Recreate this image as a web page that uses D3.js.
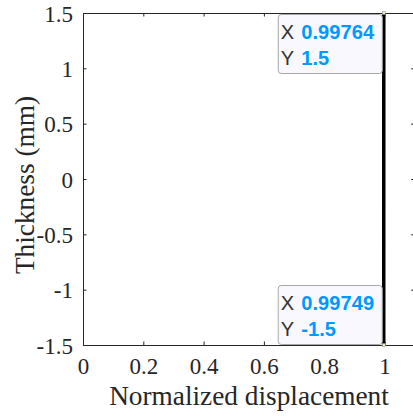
<!DOCTYPE html>
<html>
<head>
<meta charset="utf-8">
<style>
    body { margin: 0; background: #fff; }
    svg { display: block; }
    .tick text { font-family: "Liberation Serif", "Times New Roman", serif; font-size: 23px; fill: #262626; }
    .lbl { font-family: "Liberation Serif", "Times New Roman", serif; font-size: 27.3px; fill: #262626; }
    .tip { font-family: "Liberation Sans", Arial, Helvetica, sans-serif; font-size: 20px; letter-spacing: 0.1px; }
</style>
</head>
<body>
<div class="viz"></div>
<script src="https://cdnjs.cloudflare.com/ajax/libs/d3/7.8.5/d3.min.js"></script>
<script>
    // data
    var thickness = [-1.5, -1.0, -0.5, 0, 0.5, 1.0, 1.5];
    var displacement = [0.99749, 0.99752, 0.99754, 0.99756, 0.99759, 0.99761, 0.99764];
    var xTicks = [0, 0.2, 0.4, 0.6, 0.8, 1];
    var yTicks = [-1.5, -1, -0.5, 0, 0.5, 1, 1.5];
    var tips = [
        {x: 0.99764, y: 1.5, xs: "0.99764", ys: "1.5"},
        {x: 0.99749, y: -1.5, xs: "0.99749", ys: "-1.5"}
    ];

    var width = 413, height = 416;
    var margin = {left: 83, top: 13, bottom: 71};

    var svg = d3.select('.viz').append('svg')
        .attr('width', width)
        .attr('height', height);

    var x = d3.scaleLinear().domain([0, 1.1]).range([margin.left, 83 + 1.1 * 301.5]);
    var y = d3.scaleLinear().domain([-1.5, 1.5]).range([height - margin.bottom, margin.top]);

    var axisCol = '#262626';
    var fmt = function (d) { return String(d); };

    // box with inward ticks
    var xAxis = svg.append('g')
        .attr('transform', 'translate(0,' + y(-1.5) + ')')
        .call(d3.axisBottom(x).tickValues(xTicks).tickSizeInner(-3.5).tickSizeOuter(0)
            .tickFormat(fmt).tickPadding(12));
    var yAxis = svg.append('g')
        .attr('transform', 'translate(' + x(0) + ',0)')
        .call(d3.axisLeft(y).tickValues(yTicks).tickSizeInner(-3.5).tickSizeOuter(0)
            .tickFormat(fmt).tickPadding(10));
    var xTop = svg.append('g')
        .attr('transform', 'translate(0,' + y(1.5) + ')')
        .call(d3.axisTop(x).tickValues(xTicks).tickSizeInner(-3.5).tickSizeOuter(0).tickFormat(''));
    var yRight = svg.append('g')
        .attr('transform', 'translate(' + x(1.1) + ',0)')
        .call(d3.axisRight(y).tickValues(yTicks).tickSizeInner(-3.5).tickSizeOuter(0).tickFormat(''));

    [xAxis, yAxis, xTop, yRight].forEach(function (a) {
        a.select('.domain').attr('stroke', axisCol).attr('stroke-width', 1);
        a.selectAll('.tick line').attr('stroke', axisCol);
    });
    xAxis.selectAll('.tick text').attr('dy', '0.72em');
    yAxis.selectAll('.tick text').attr('dy', '0.35em');

    // the line
    var pts = thickness.map(function (t, i) { return [displacement[i], t]; });
    svg.append('path')
        .datum(pts)
        .attr('fill', 'none')
        .attr('stroke', '#000')
        .attr('stroke-width', 3.5)
        .attr('d', d3.line().x(function (d) { return x(d[0]); }).y(function (d) { return y(d[1]); }));

    // axis labels
    svg.append('text')
        .attr('class', 'lbl')
        .attr('text-anchor', 'middle')
        .attr('x', 249)
        .attr('y', 405)
        .text('Normalized displacement');
    svg.append('text')
        .attr('class', 'lbl')
        .attr('text-anchor', 'middle')
        .attr('transform', 'translate(34,185) rotate(-90)')
        .text('Thickness (mm)');

    // datatips
    var tipW = 104, tipH = 60;
    tips.forEach(function (t) {
        var px = x(t.x), py = y(t.y);
        var bx = px - tipW - 2;
        var by = t.y > 0 ? py + 1 : py - tipH;
        var g = svg.append('g');
        g.append('rect')
            .attr('x', bx + 0.5).attr('y', by + 0.5)
            .attr('width', tipW).attr('height', tipH - 1)
            .attr('rx', 3)
            .attr('fill', '#f8f8fe')
            .attr('stroke', '#a8a8a8')
            .attr('stroke-width', 1);
        [['X', t.xs], ['Y', t.ys]].forEach(function (r, i) {
            var tx = g.append('text').attr('class', 'tip')
                .attr('x', bx + 3).attr('y', by + 24.5 + i * 26.5);
            tx.append('tspan').attr('fill', '#333').text(r[0]);
            tx.append('tspan').attr('fill', '#0099ff').attr('font-weight', 'bold').attr('dx', 7).text(r[1]);
        });
        g.append('rect')
            .attr('x', px - 1.5).attr('y', py - 1.5)
            .attr('width', 3).attr('height', 3)
            .attr('fill', '#f0f0c0').attr('stroke', '#888').attr('stroke-width', 0.5);
    });
</script>
</body>
</html>
